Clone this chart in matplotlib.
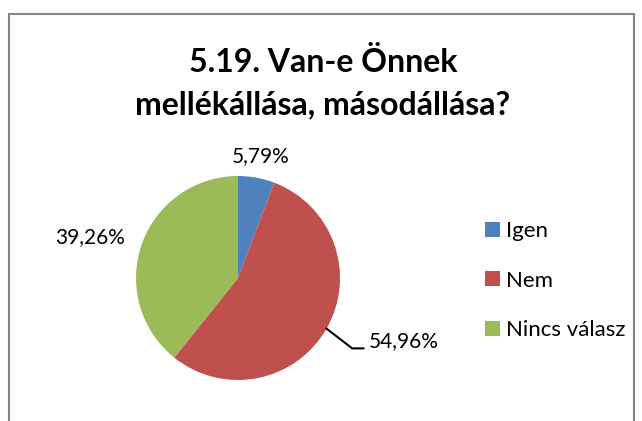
import numpy as np
import matplotlib.pyplot as plt
from matplotlib.patches import Rectangle

labels = ['Igen', 'Nem', 'Nincs válasz']
values = [5.79, 54.96, 39.26]
pct_text = ['5,79%', '54,96%', '39,26%']
colors = ['#4F81BD', '#C0504D', '#9BBB59']

plt.rcParams['font.family'] = ['Lato', 'DejaVu Sans']

fig = plt.figure(figsize=(6.42, 4.21), dpi=100)
fig.patch.set_facecolor('white')

# chart border (bottom runs off the image)
fig.patches.append(Rectangle((9/642, -0.1), 625/642, 1.1 - 14/421, transform=fig.transFigure,
                             fill=False, edgecolor='#868686', linewidth=1.5))

fig.text(323/642, 1 - 62/421, '5.19. Van-e Önnek', ha='center', va='center',
         fontsize=23, fontweight='bold')
fig.text(323/642, 1 - 105/421, 'mellékállása, másodállása?', ha='center', va='center',
         fontsize=23, fontweight='bold')

ax = fig.add_axes([136/642, 1 - 380/421, 204/642, 204/421])
wedges, _ = ax.pie(values, colors=colors, startangle=90, counterclock=False,
                   wedgeprops=dict(linewidth=0))
ax.set_xlim(-1, 1)
ax.set_ylim(-1, 1)
ax.set_aspect('equal')
ax.axis('off')

for w, t in zip(wedges, pct_text):
    ang = np.deg2rad((w.theta1 + w.theta2) / 2)
    c, s = np.cos(ang), np.sin(ang)
    if t == '5,79%':
        ax.text(1.22 * c, 1.22 * s, t, ha='center', va='center', fontsize=15, clip_on=False)
    elif t == '39,26%':
        ax.text(1.17 * c, 1.21 * s, t, ha='right', va='center', fontsize=15, clip_on=False)
    else:
        x0, y0 = c, s
        x1, y1 = 1.12, -0.69
        ax.plot([x0, x1, x1 + 0.11], [y0, y1, y1], color='black', lw=1.5, clip_on=False)
        ax.text(x1 + 0.16, y1 - 0.03, t, ha='left', va='bottom', fontsize=15, clip_on=False)

fig.legend(wedges, labels, loc='upper left', bbox_to_anchor=(474/642, 1 - 210/421),
           frameon=False, fontsize=16, handlelength=0.65, handleheight=0.65,
           handletextpad=0.3, labelspacing=1.33, borderpad=0)

fig.savefig('out.png', dpi=100)
